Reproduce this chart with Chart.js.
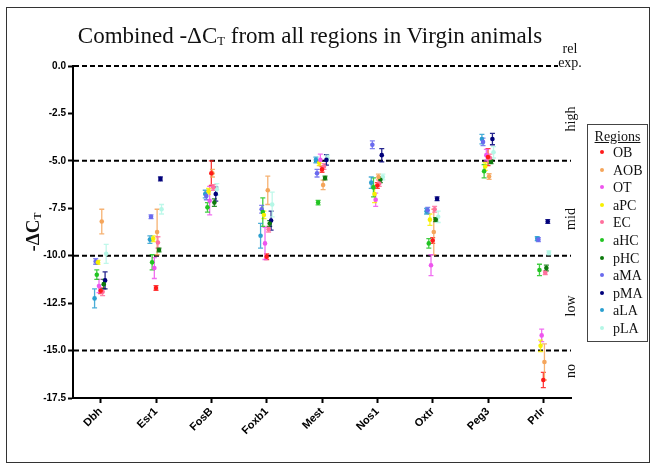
<!DOCTYPE html>
<html lang="en">
<head>
<meta charset="UTF-8">
<title>Combined -ΔCT - Virgin animals</title>
<style>
  body { margin: 0; background: #fff; }
  #wrap { position: relative; width: 655px; height: 467px; overflow: hidden; }
  #wrap canvas { position: absolute; left: 0; top: 0; }
  .frame { position: absolute; left: 6px; top: 7px; width: 642px; height: 454px; border: 1px solid #333; }
  .serif { font-family: "Liberation Serif", "Times New Roman", serif; color: #111; }
  .title { position: absolute; left: 0; width: 620px; top: 23px; text-align: center; font-size: 23px; white-space: nowrap; }
  .title sub, .ytitle sub { font-size: 0.55em; vertical-align: -0.15em; }
  .ytitle { position: absolute; left: 33px; top: 232px; transform: translate(-50%, -50%) rotate(-90deg); font-size: 19px; font-weight: bold; white-space: nowrap; }
  .side { position: absolute; left: 571px; transform: translate(-50%, -50%) rotate(-90deg); font-size: 14px; white-space: nowrap; }
  .rel { position: absolute; left: 570px; transform: translateX(-50%); font-size: 14px; line-height: 14px; text-align: center; }
  .legend { position: absolute; left: 587px; top: 124px; width: 59px; height: 216px; border: 1.5px solid #444; font-size: 14px; }
  .legend .head { text-align: center; text-decoration: underline; margin-top: 4px; height: 18px; }
  .legend .item { position: absolute; left: 12px; height: 17px; line-height: 17px; white-space: nowrap; }
  .legend .dot { display: inline-block; width: 4px; height: 4px; border-radius: 2px; margin-right: 9px; vertical-align: 3px; }
</style>
</head>
<body>
<div id="wrap">
  <canvas id="chart" width="655" height="467"></canvas>
  <div class="frame"></div>
  <div class="title serif">Combined -ΔC<sub>T</sub> from all regions in Virgin animals</div>
  <div class="ytitle serif">-ΔC<sub>T</sub></div>
  <div class="rel serif" style="top:42px">rel<br>exp.</div>
  <div class="side serif" style="top:119px">high</div>
  <div class="side serif" style="top:219px">mid</div>
  <div class="side serif" style="top:306px">low</div>
  <div class="side serif" style="top:371px">no</div>
  <div class="legend serif" id="legend"><div class="head">Regions</div></div>
</div>

<script src="https://cdn.jsdelivr.net/npm/chart.js"></script>
<script>
    const genes = ['Dbh', 'Esr1', 'FosB', 'Foxb1', 'Mest', 'Nos1', 'Oxtr', 'Peg3', 'Prlr'];
    const regions = ['OB', 'AOB', 'OT', 'aPC', 'EC', 'aHC', 'pHC', 'aMA', 'pMA', 'aLA', 'pLA'];
    const yTicks = [0, -2.5, -5, -7.5, -10, -12.5, -15, -17.5];
    const bands = [0, -5, -10, -15];

    // mean -dCT per gene, one array per region
    const OB  = [-11.85, -11.7, -5.65, -10.05, -5.45, -6.3, -9.2, -4.8, -16.55];
    const AOB = [-8.2, -8.75, -5.65, -6.55, -6.27, -5.85, -8.75, -5.83, -15.6];
    const OT  = [-11.6, -10.65, -7.1, -9.35, -4.95, -7.05, -10.5, -4.7, -14.2];
    const aPC = [-10.35, -9.1, -6.6, -7.85, -5.1, -6.75, -8.1, -5.3, -14.75];
    const EC  = [-11.9, -9.3, -6.4, -8.6, -5.3, -6.2, -7.55, -4.85, -10.9];
    const aHC = [-11.0, -10.35, -7.45, -7.7, -7.2, -6.4, -9.35, -5.55, -10.75];
    const pHC = [-11.5, -9.7, -7.2, -8.3, -5.9, -6.0, -8.1, -5.05, -10.65];
    const aMA = [-10.3, -7.95, -6.85, -7.55, -5.65, -4.15, -7.6, -4.0, -9.15];
    const pMA = [-11.3, -5.95, -6.75, -8.15, -4.95, -4.7, -7.0, -3.85, -8.2];
    const aLA = [-12.25, -9.15, -6.75, -8.95, -4.95, -6.15, -7.65, -3.85, -9.1];
    const pLA = [-9.9, -7.55, -6.5, -7.3, -4.85, -5.85, -7.95, -4.55, -9.85];

    // SEM per gene
    const OB_sem  = [0.15, 0.12, 0.65, 0.15, 0.15, 0.15, 0.15, 0.45, 0.4];
    const AOB_sem = [0.65, 1.2, 0.2, 0.75, 0.25, 0.15, 1.2, 0.15, 0.95];
    const OT_sem  = [0.35, 0.55, 0.75, 0.85, 0.3, 0.35, 0.55, 0.3, 0.33];
    const aPC_sem = [0.1, 0.15, 0.15, 0.2, 0.15, 0.45, 0.3, 0.2, 0.3];
    const EC_sem  = [0.2, 0.3, 0.15, 0.15, 0.15, 0.15, 0.15, 0.2, 0.1];
    const aHC_sem = [0.25, 0.4, 0.25, 0.75, 0.12, 0.5, 0.25, 0.35, 0.3];
    const pHC_sem = [0.25, 0.1, 0.2, 0.15, 0.1, 0.15, 0.1, 0.1, 0.15];
    const aMA_sem = [0.15, 0.1, 0.2, 0.2, 0.2, 0.2, 0.15, 0.2, 0.1];
    const pMA_sem = [0.45, 0.1, 0.37, 0.5, 0.28, 0.35, 0.1, 0.3, 0.1];
    const aLA_sem = [0.5, 0.2, 0.2, 0.65, 0.15, 0.3, 0.15, 0.25, 0.1];
    const pLA_sem = [0.5, 0.25, 0.3, 0.65, 0.15, 0.15, 0.3, 0.3, 0.1];

    const means = [OB, AOB, OT, aPC, EC, aHC, pHC, aMA, pMA, aLA, pLA];
    const sems = [OB_sem, AOB_sem, OT_sem, aPC_sem, EC_sem, aHC_sem, pHC_sem, aMA_sem, pMA_sem, aLA_sem, pLA_sem];

    const colors = ['#ff1a1a', '#f5a55a', '#ee55ee', '#f7f000', '#ff6f9c', '#22c422',
                    '#0d7a0d', '#6a6aee', '#00007a', '#2a9fd0', '#b4f7e6'];
    // small sideways shift so the regions don't sit on top of each other
    const dodge = [0, 0.02, -0.03, -0.05, 0.035, -0.07, 0.055, -0.09, 0.08, -0.11, 0.1];

    // legend
    const legend = document.getElementById('legend');
    regions.forEach((r, i) => {
        const el = document.createElement('div');
        el.className = 'item';
        el.style.top = (19 + i * 17.6) + 'px';
        el.innerHTML = '<span class="dot" style="background:' + colors[i] + '"></span>' + r;
        legend.appendChild(el);
    });

    const errorBars = {
        id: 'errorBars',
        beforeDatasetsDraw(chart) {
            const ctx = chart.ctx, y = chart.scales.y;
            chart.data.datasets.forEach((ds, d) => {
                const meta = chart.getDatasetMeta(d);
                ctx.save();
                ctx.strokeStyle = ds.backgroundColor;
                ctx.globalAlpha = 0.85;
                ctx.lineWidth = 1.3;
                ds.data.forEach((p, i) => {
                    const x = meta.data[i].x;
                    const t = y.getPixelForValue(p.y + p.err);
                    const b = y.getPixelForValue(p.y - p.err);
                    ctx.beginPath();
                    ctx.moveTo(x, t); ctx.lineTo(x, b);
                    ctx.moveTo(x - 2.5, t); ctx.lineTo(x + 2.5, t);
                    ctx.moveTo(x - 2.5, b); ctx.lineTo(x + 2.5, b);
                    ctx.stroke();
                });
                ctx.restore();
            });
        }
    };

    const bandLines = {
        id: 'bandLines',
        beforeDatasetsDraw(chart) {
            const ctx = chart.ctx, y = chart.scales.y, area = chart.chartArea;
            ctx.save();
            ctx.strokeStyle = '#000';
            ctx.lineWidth = 2;
            ctx.setLineDash([5, 3]);
            bands.forEach(v => {
                const py = y.getPixelForValue(v);
                ctx.beginPath();
                ctx.moveTo(area.left + 1, py);
                ctx.lineTo(v === 0 ? area.right - 13 : area.right, py);
                ctx.stroke();
            });
            ctx.restore();
        }
    };

    const tickFont = { family: 'Liberation Sans, Arial, sans-serif', size: 10, weight: 'bold' };

    new Chart(document.getElementById('chart'), {
        type: 'scatter',
        data: {
            datasets: regions.map((r, k) => ({
                label: r,
                data: genes.map((g, i) => ({ x: i + dodge[k], y: means[k][i], err: sems[k][i] })),
                backgroundColor: colors[k],
                borderWidth: 0,
                pointRadius: 2.3
            }))
        },
        options: {
            responsive: false,
            animation: false,
            devicePixelRatio: 1,
            layout: { padding: { top: 66, right: 84, left: 0, bottom: 0 } },
            plugins: { legend: { display: false }, tooltip: { enabled: false } },
            scales: {
                x: {
                    type: 'linear', min: -0.5, max: 8.5,
                    afterBuildTicks: s => { s.ticks = genes.map((g, i) => ({ value: i })); },
                    afterFit: s => { s.height = 69; },
                    grid: { drawOnChartArea: false, tickLength: 5, tickColor: '#000', tickWidth: 2 },
                    border: { color: '#000', width: 2 },
                    ticks: {
                        autoSkip: false, minRotation: 45, maxRotation: 45, padding: 2,
                        color: '#000', font: { family: 'Liberation Sans, Arial, sans-serif', size: 11, weight: 'bold' },
                        callback: v => genes[v] ?? ''
                    }
                },
                y: {
                    min: -17.5, max: 0,
                    afterBuildTicks: s => { s.ticks = yTicks.map(v => ({ value: v })); },
                    afterFit: s => { s.width = 73; },
                    grid: { drawOnChartArea: false, tickLength: 5, tickColor: '#000', tickWidth: 2 },
                    border: { color: '#000', width: 2 },
                    ticks: { color: '#000', font: tickFont, padding: 2, callback: v => v.toFixed(1) }
                }
            }
        },
        plugins: [bandLines, errorBars]
    });
</script>
</body>
</html>
